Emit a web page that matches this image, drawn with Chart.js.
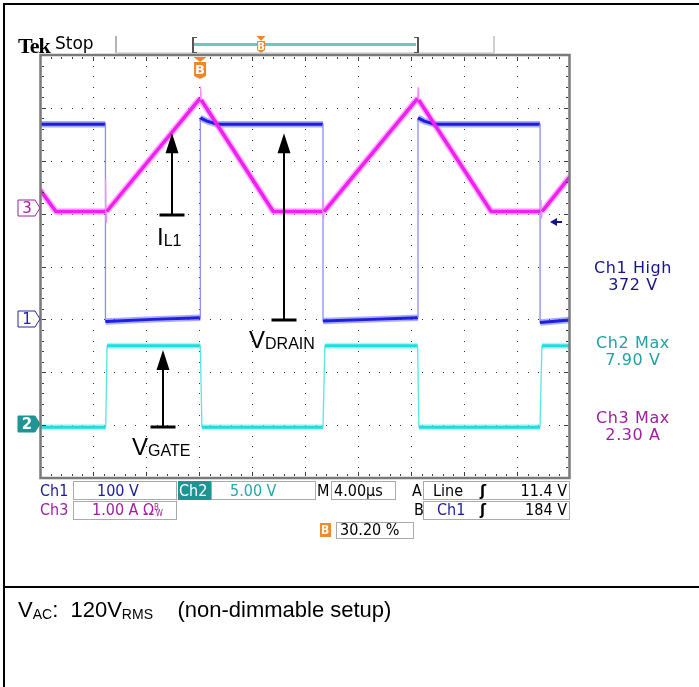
<!DOCTYPE html>
<html lang="en">
<head>
<meta charset="utf-8">
<title>Flyback switching waveforms</title>
<script src="https://cdn.jsdelivr.net/npm/chart.js@4/dist/chart.umd.min.js"></script>
<style>
  html, body { margin: 0; padding: 0; background: #fff; }
  #page { position: relative; width: 699px; height: 687px; overflow: hidden; }
  #scope { position: absolute; left: 0; top: 0; z-index: 1; }
  .t { position: absolute; white-space: nowrap; line-height: 1; z-index: 2; }
  .sf { font-family: "DejaVu Sans", Verdana, sans-serif; }
  .nf { font-family: "DejaVu Sans Condensed", "Liberation Sans Narrow", "DejaVu Sans", sans-serif; font-size: 16px; }
  .ro { left: 573px; width: 120px; text-align: center; font-size: 16px; line-height: 17px; letter-spacing: 0.6px; }
  .box { position: absolute; border: 1px solid #aaa; box-sizing: border-box; z-index: 2; }
  .ar { font-family: "Liberation Sans", Arial, sans-serif; color: #000; }
  .sub { font-size: 16px; position: relative; top: 1px; }
  .cs { font-size: 14px; position: relative; top: 2px; }
  .rule { position: absolute; background: #000; }
  .r { text-align: right; width: 60px; }
</style>
</head>
<body>
<div id="page">
  <div class="rule" style="left:3px;top:3px;width:696px;height:2px"></div>
  <div class="rule" style="left:3px;top:3px;width:2px;height:684px"></div>
  <div class="rule" style="left:3px;top:586px;width:696px;height:2px"></div>

  <!-- status line and record view -->
  <div class="t" style="left:18px;top:33px;font:bold 22px 'Liberation Serif',serif;letter-spacing:-1px">Tek</div>
  <div class="t sf" style="left:55px;top:35px;font-size:17px">Stop</div>
  <div style="position:absolute;left:115px;top:36px;width:2px;height:17px;background:#b4b4b4"></div>
  <div style="position:absolute;left:116px;top:52px;width:378px;height:2px;background:#dcdcdc"></div>
  <div style="position:absolute;left:493px;top:36px;width:2px;height:17px;background:#d0d0d0"></div>
  <div style="position:absolute;left:192px;top:37px;width:3px;height:14px;border:solid #555;border-width:1px 0 1px 2px"></div>
  <div style="position:absolute;left:194px;top:43px;width:222px;height:3px;background:#6cc6c6"></div>
  <div style="position:absolute;left:414px;top:37px;width:3px;height:14px;border:solid #555;border-width:1px 2px 1px 0"></div>

  <canvas id="scope" width="699" height="687"></canvas>

  <!-- pointer labels -->
  <div class="t ar" style="left:157px;top:225px;font-size:24px">I<span class="sub">L1</span></div>
  <div class="t ar" style="left:249px;top:328px;font-size:24px">V<span class="sub">DRAIN</span></div>
  <div class="t ar" style="left:132px;top:435px;font-size:24px">V<span class="sub">GATE</span></div>

  <!-- measurement readouts -->
  <div class="t sf ro" style="top:259px;color:#14148c">Ch1 High<br>372 V</div>
  <div class="t sf ro" style="top:334px;color:#22a2a2">Ch2 Max<br>7.90 V</div>
  <div class="t sf ro" style="top:409px;color:#a01ea0">Ch3 Max<br>2.30 A</div>

  <!-- channel / timebase / trigger settings -->
  <div class="t nf" style="left:40px;top:483px;color:#1a1a99">Ch1</div>
  <div class="box" style="left:73px;top:481px;width:104px;height:19px"></div>
  <div class="t nf" style="left:97px;top:483px;color:#1a1a99">100 V</div>
  <div class="box" style="left:178px;top:481px;width:33px;height:19px;background:#1e9494;border-color:#1e9494"></div>
  <div class="t nf" style="left:179px;top:483px;color:#fff">Ch2</div>
  <div class="box" style="left:211px;top:481px;width:105px;height:19px"></div>
  <div class="t nf" style="left:230px;top:483px;color:#26a6a6">5.00 V</div>
  <div class="t nf" style="left:317px;top:483px;color:#000">M</div>
  <div class="box" style="left:331px;top:481px;width:65px;height:19px"></div>
  <div class="t nf" style="left:334px;top:483px;color:#000">4.00µs</div>
  <div class="t nf" style="left:412px;top:483px;color:#000">A</div>
  <div class="box" style="left:423px;top:481px;width:147px;height:19px"></div>
  <div class="t nf" style="left:433px;top:483px;color:#000">Line</div>
  <div class="t nf" style="left:480px;top:483px;color:#000;font-weight:bold">ʃ</div>
  <div class="t nf r" style="left:507px;top:483px;color:#000">11.4 V</div>

  <div class="t nf" style="left:40px;top:502px;color:#a020a0">Ch3</div>
  <div class="box" style="left:73px;top:501px;width:104px;height:19px"></div>
  <div class="t nf" style="left:92px;top:502px;color:#a020a0">1.00 A Ω<span style="font-size:8px;position:relative;top:-5px">B</span><span style="font-size:8px;position:relative;top:1px;left:-3px">W</span></div>
  <div class="t nf" style="left:414px;top:502px;color:#000">B</div>
  <div class="box" style="left:423px;top:501px;width:147px;height:19px"></div>
  <div class="t nf" style="left:437px;top:502px;color:#1a1a99">Ch1</div>
  <div class="t nf" style="left:480px;top:502px;color:#000;font-weight:bold">ʃ</div>
  <div class="t nf r" style="left:507px;top:502px;color:#000">184 V</div>

  <div class="box" style="left:320px;top:523px;width:11px;height:14px;background:#f08a2c;border-color:#f08a2c"></div>
  <div class="t nf" style="left:321px;top:524px;color:#fff;font-size:12px;font-weight:bold">B</div>
  <div class="box" style="left:336px;top:522px;width:78px;height:17px"></div>
  <div class="t nf" style="left:340px;top:522px;color:#000">30.20 %</div>

  <div class="t ar" style="left:18px;top:599px;font-size:22px">V<span class="cs">AC</span>:&nbsp; 120V<span class="cs">RMS</span>&nbsp;&nbsp;&nbsp; (non-dimmable setup)</div>
</div>

<script>
// Graticule: 10 x 8 divisions, 4.00 µs/div
const H_DIVS = 10, V_DIVS = 8, US_PER_DIV = 4;
const TRIG_POS = 0.302;       // trigger position in record
const TRIG_B_LEVEL = 184;     // V, on Ch1

// Ch1: drain voltage (V), 100 V/div
const drainTimeUs = [0, 4.94, 4.94, 8.5, 12.1, 12.1, 12.6, 13.4, 21.36, 21.36, 25.0, 28.53, 28.53, 29.0, 29.8, 37.74, 37.74, 40];
const drainVolts  = [369, 369, -4, 0, 3, 381, 375, 369, 369, -3, 0, 3, 381, 375, 369, 369, -6, -1];

// Ch2: gate drive (V), 5 V/div
const gateTimeUs = [0, 4.96, 5.06, 12.1, 12.22, 21.36, 21.5, 28.5, 28.6, 37.74, 37.88, 40];
const gateVolts  = [-0.35, -0.35, 7.35, 7.35, -0.35, -0.35, 7.35, 7.35, -0.35, -0.35, 7.35, 7.35];

// Ch3: inductor current (A), 1 A/div
const coilTimeUs = [0, 1.2, 4.92, 4.95, 4.99, 5.03, 12.08, 12.12, 12.17, 17.6, 21.33, 21.36, 21.4, 21.44, 28.5, 28.54, 28.58, 34.05, 37.78, 37.81, 37.85, 37.89, 40];
const coilAmps   = [0.35, -0.06, -0.06, 0.52, -0.26, -0.06, 2.08, 2.29, 2.05, -0.06, -0.06, 0.15, -0.2, -0.06, 2.08, 2.28, 2.05, -0.06, -0.06, 0.15, -0.18, -0.06, 0.6];

// arrows: time (µs), tail and head in divisions from the bottom
const pointers = [
  { t: 9.96, tail: 4.97, head: 6.52 },   // I_L1
  { t: 18.42, tail: 2.99, head: 6.52 },  // V_DRAIN
  { t: 9.28, tail: 0.97, head: 2.42 },   // V_GATE
];

const pts = (xs, ys) => xs.map((t, i) => ({ x: t, y: ys[i] }));
const isEdge = (c) => Math.abs(c.p1.parsed.x - c.p0.parsed.x) < 0.2;

function trace(xs, ys, axis, core, edge, haze, w, hw, order) {
  return [
    { data: pts(xs, ys), yAxisID: axis, borderColor: core, borderWidth: w, order,
      segment: { borderColor: (c) => isEdge(c) ? edge : core, borderWidth: (c) => isEdge(c) ? 1.3 : w } },
    { data: pts(xs, ys), yAxisID: axis, borderColor: haze, borderWidth: hw, order: order + 10,
      segment: { borderColor: (c) => isEdge(c) ? 'rgba(0,0,0,0)' : haze } },
  ];
}

function markerB(ctx, cx, top, w, h, font) {
  ctx.fillStyle = '#f0862a';
  ctx.beginPath();
  ctx.moveTo(cx - w / 2, top); ctx.lineTo(cx + w / 2, top); ctx.lineTo(cx, top + 5);
  ctx.fill();
  const bt = top + 5, r = 2;
  ctx.beginPath();
  ctx.moveTo(cx - w / 2 + 0.5, bt);
  ctx.lineTo(cx + w / 2 - 0.5, bt);
  ctx.lineTo(cx + w / 2 - 0.5, bt + h - r - 1);
  ctx.lineTo(cx, bt + h);
  ctx.lineTo(cx - w / 2 + 0.5, bt + h - r - 1);
  ctx.closePath();
  ctx.fill();
  ctx.fillStyle = '#fff';
  ctx.font = font;
  ctx.textAlign = 'center';
  ctx.textBaseline = 'middle';
  ctx.fillText('B', cx, bt + h / 2);
}

function groundTag(ctx, tip, y, label, color, filled) {
  ctx.beginPath();
  ctx.moveTo(tip - 22, y - 8); ctx.lineTo(tip - 5, y - 8); ctx.lineTo(tip, y);
  ctx.lineTo(tip - 5, y + 8); ctx.lineTo(tip - 22, y + 8); ctx.closePath();
  ctx.fillStyle = filled ? color : '#fff';
  ctx.fill();
  ctx.strokeStyle = color; ctx.lineWidth = 1;
  ctx.stroke();
  ctx.fillStyle = filled ? '#fff' : color;
  ctx.font = (filled ? 'bold ' : '') + '15px "DejaVu Sans", sans-serif';
  ctx.textAlign = 'center'; ctx.textBaseline = 'middle';
  ctx.fillText(label, tip - 13, y + 1);
}

const graticule = {
  id: 'graticule',
  beforeDatasetsDraw(chart) {
    const { ctx, scales: { x, div } } = chart;
    ctx.save();
    ctx.fillStyle = '#333';
    for (let i = 1; i < H_DIVS; i++) {
      const px = Math.round(x.getPixelForValue(i * US_PER_DIV));
      for (let j = 1; j < V_DIVS * 5; j++) ctx.fillRect(px, Math.round(div.getPixelForValue(j / 5)), 1, 1);
    }
    for (let j = 1; j < V_DIVS; j++) {
      const py = Math.round(div.getPixelForValue(j));
      for (let i = 1; i < H_DIVS * 5; i++) ctx.fillRect(Math.round(x.getPixelForValue(i * US_PER_DIV / 5)), py, 1, 1);
    }
    ctx.restore();
  },
  afterDatasetsDraw(chart) {
    const { ctx, chartArea: a, scales: { x, div, y1, y2, y3 } } = chart;
    ctx.save();
    // frame and edge ticks
    ctx.strokeStyle = '#7a7a7a'; ctx.lineWidth = 2.5;
    ctx.strokeRect(a.left + 0.5, a.top, a.right - a.left - 1, a.bottom - a.top);
    ctx.fillStyle = '#3c3c3c';
    for (let i = 1; i < H_DIVS * 5; i++) {
      const px = Math.round(x.getPixelForValue(i * US_PER_DIV / 5));
      const len = i % 5 === 0 ? 4 : 2;
      ctx.fillRect(px, a.top + 2, 1, len);
      ctx.fillRect(px, a.bottom - 2 - len, 1, len);
    }
    for (let j = 1; j < V_DIVS * 5; j++) {
      const py = Math.round(div.getPixelForValue(j / 5));
      const len = j % 5 === 0 ? 4 : 2;
      ctx.fillRect(a.left + 2, py, len, 1);
      ctx.fillRect(a.right - 2 - len, py, len, 1);
    }

    // arrows
    ctx.strokeStyle = '#000'; ctx.fillStyle = '#000'; ctx.lineWidth = 2;
    pointers.forEach((p) => {
      const px = Math.round(x.getPixelForValue(p.t));
      const yb = div.getPixelForValue(p.tail), yt = div.getPixelForValue(p.head);
      ctx.beginPath(); ctx.moveTo(px, yb); ctx.lineTo(px, yt + 18); ctx.stroke();
      ctx.beginPath(); ctx.moveTo(px, yt); ctx.lineTo(px - 6.5, yt + 20); ctx.lineTo(px + 6.5, yt + 20); ctx.closePath(); ctx.fill();
      ctx.fillRect(px - 12.5, Math.round(yb) - 1.5, 25, 3);
    });

    // trigger position and B-trigger level
    markerB(ctx, x.getPixelForValue(TRIG_POS * H_DIVS * US_PER_DIV), a.top + 2, 13, 17, 'bold 13px "DejaVu Sans", sans-serif');
    markerB(ctx, 194 + TRIG_POS * 222, 36, 9, 12, 'bold 10px "DejaVu Sans", sans-serif');
    const ly = Math.round(y1.getPixelForValue(TRIG_B_LEVEL));
    ctx.fillStyle = '#12128a';
    ctx.beginPath(); ctx.moveTo(a.right - 20, ly); ctx.lineTo(a.right - 13, ly - 4); ctx.lineTo(a.right - 13, ly + 4); ctx.closePath(); ctx.fill();
    ctx.fillRect(a.right - 14, ly - 1, 6, 2);

    // channel ground references
    groundTag(ctx, a.left, Math.round(y3.getPixelForValue(0)), '3', '#a020a0', false);
    groundTag(ctx, a.left, Math.round(y1.getPixelForValue(0)), '1', '#2424a8', false);
    groundTag(ctx, a.left, Math.round(y2.getPixelForValue(0)), '2', '#1e9494', true);
    ctx.restore();
  },
};

new Chart(document.getElementById('scope'), {
  type: 'line',
  data: {
    datasets: [
      ...trace(coilTimeUs, coilAmps, 'y3', '#f020f0', '#f48cf4', 'rgba(255,110,255,0.55)', 3.5, 6.5, 0),
      ...trace(drainTimeUs, drainVolts, 'y1', '#1e1ee0', '#8c8cff', 'rgba(90,90,255,0.5)', 3, 6.5, 1),
      ...trace(gateTimeUs, gateVolts, 'y2', '#22dcdc', '#55e6e6', 'rgba(120,240,240,0.6)', 3, 6, 2),
    ],
  },
  options: {
    responsive: false,
    animation: false,
    events: [],
    layout: { padding: { left: 40, top: 55, right: 129, bottom: 209 } },
    elements: { point: { radius: 0 }, line: { tension: 0, borderCapStyle: 'butt', borderJoinStyle: 'round' } },
    plugins: { legend: { display: false }, tooltip: { enabled: false } },
    scales: {
      x: { type: 'linear', min: 0, max: H_DIVS * US_PER_DIV, display: false },
      div: { type: 'linear', axis: 'y', min: 0, max: V_DIVS, display: false },
      y1: { type: 'linear', min: -300, max: 500, display: false },
      y2: { type: 'linear', min: -5.15, max: 34.85, display: false },
      y3: { type: 'linear', min: -5.1, max: 2.9, display: false },
    },
  },
  plugins: [graticule],
});
</script>
</body>
</html>
